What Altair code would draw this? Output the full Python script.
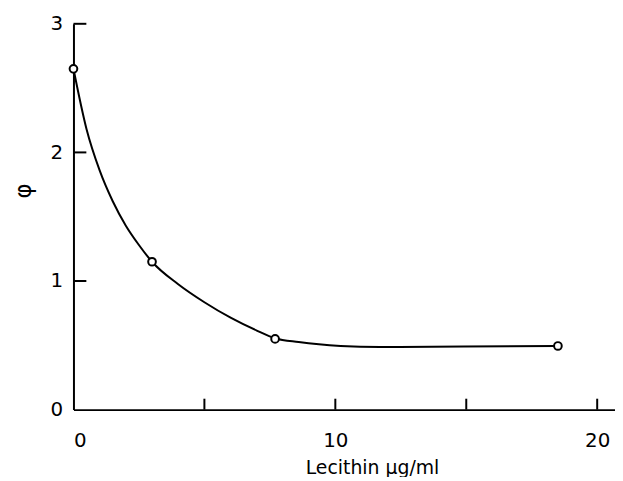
import altair as alt
import pandas as pd

# measured points
pts_x = [0.0, 3.0, 7.7, 18.5]
pts_y = [2.65, 1.15, 0.55, 0.495]

# fitted curve
curve_x = [0.0, 0.5, 1.0, 1.5, 2.0, 2.5, 3.0, 4.0, 5.0, 6.0, 7.0, 7.7, 8.6, 10.2, 11.7, 14.9, 18.5]
curve_y = [2.65, 2.18, 1.86, 1.62, 1.43, 1.28, 1.15, 0.975, 0.835, 0.715, 0.615, 0.555, 0.525, 0.495, 0.487, 0.49, 0.495]

x_labels = [0, 10, 20]
x_ticks = [5, 10, 15, 20]
y_labels = [0, 1, 2, 3]
y_ticks = [1, 2, 3]

FONT = "DejaVu Sans"
W, H = 546, 389

pts = pd.DataFrame({"x": pts_x, "y": pts_y})
curve = pd.DataFrame({"x": curve_x, "y": curve_y})
xt = pd.DataFrame({"x": x_ticks})
yt = pd.DataFrame({"y": y_ticks})

xscale = alt.Scale(domain=[0, 20.68], nice=False, zero=False)
yscale = alt.Scale(domain=[0, 3], nice=False)

xaxis = alt.Axis(values=x_labels, format="d", ticks=False, tickSize=0, grid=False, domainColor="black",
                 domainWidth=2, labelFontSize=20, labelFont=FONT, labelColor="black",
                 labelPadding=21, title="Lecithin  µg/ml", titleFont=FONT, titleFontSize=19,
                 titleFontWeight="normal", titleColor="black", titleX=301, titleY=64,
                 titleAlign="center", titleBaseline="alphabetic")
yaxis = alt.Axis(values=y_labels, format="d", ticks=False, tickSize=0, grid=False, domainColor="black",
                 domainWidth=2, labelFontSize=20, labelFont=FONT, labelColor="black",
                 labelPadding=11, title="φ", titleFont=FONT, titleFontSize=23,
                 titleFontWeight="normal", titleColor="black", titleX=-50, titleY=168,
                 titleAlign="center", titleBaseline="middle")

X = alt.X("x:Q", scale=xscale, axis=xaxis, title="Lecithin  µg/ml")
Y = alt.Y("y:Q", scale=yscale, axis=yaxis, title="φ")

line = alt.Chart(curve).mark_line(color="black", strokeWidth=2, interpolate="monotone").encode(
    x=X, y=Y,
)

xtick = alt.Chart(xt).mark_rule(color="black", strokeWidth=2).encode(
    x=X,
    y=alt.value(H), y2=alt.value(H - 11),
)
ytick = alt.Chart(yt).mark_rule(color="black", strokeWidth=2).encode(
    y=Y,
    x=alt.value(0), x2=alt.value(13),
)

points = alt.Chart(pts).mark_point(shape="circle", filled=False, fill="white", fillOpacity=1,
                                    color="black", strokeWidth=2, size=60, opacity=1).encode(
    x=X, y=Y,
)

chart = alt.layer(line, xtick, ytick, points).properties(
    width=W, height=H,
    autosize=alt.AutoSizeParams(type="none"),
    padding={"left": 66, "top": 14, "right": 0, "bottom": 66},
    background="white",
).configure_view(stroke=None)

chart.save("out.html", embed_options={"renderer": "svg", "actions": False})
